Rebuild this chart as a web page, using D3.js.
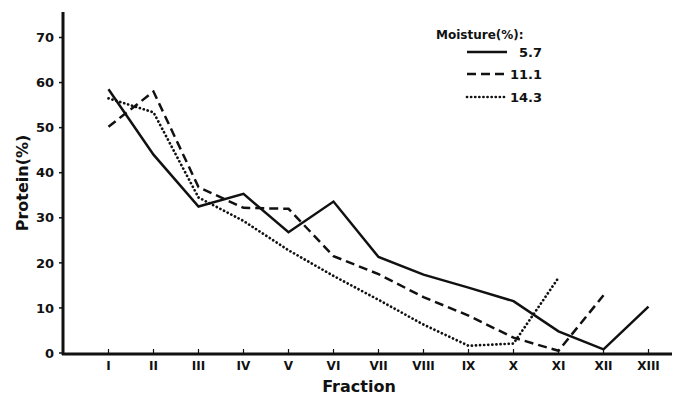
<!DOCTYPE html>
<html>
<head>
<meta charset="utf-8">
<script src="https://cdn.jsdelivr.net/npm/d3@7"></script>
<style>
  body { margin: 0; background: #fff; }
  text { font-family: "DejaVu Sans", sans-serif; font-weight: bold; fill: #111; }
</style>
</head>
<body>
<div id="chart"></div>
<script>
// fractions along the x axis
const fractions = ["I", "II", "III", "IV", "V", "VI", "VII", "VIII", "IX", "X", "XI", "XII", "XIII"];
const yTicks = [0, 10, 20, 30, 40, 50, 60, 70];

// protein (%) per fraction, one series per moisture level
const moisture57 = [58.5, 44, 32.5, 35.3, 26.8, 33.6, 21.3, 17.4, 14.5, 11.5, 4.8, 0.8, 10.3];
const moisture111 = [50.2, 58, 36.8, 32.2, 32.0, 21.5, 17.5, 12.4, 8.3, 3.4, 0.5, 12.8];
const moisture143 = [56.5, 53.4, 34.5, 29.3, 22.8, 17.1, 11.8, 6.3, 1.6, 2.1, 16.7];

const seriesNames = ["5.7", "11.1", "14.3"];
const seriesData = [moisture57, moisture111, moisture143];
const dashes = [null, "9,5", "0.1,4"];

const width = 678, height = 396;
const svg = d3.select("#chart").append("svg")
  .attr("width", width)
  .attr("height", height);

const x = d3.scalePoint()
  .domain(fractions)
  .range([108.5, 648.5]);

const y = d3.scaleLinear()
  .domain([0, 70])
  .range([353, 37.5]);

// y axis
svg.append("line")
  .attr("x1", 63).attr("x2", 63)
  .attr("y1", 12).attr("y2", 355)
  .attr("stroke", "#111").attr("stroke-width", 3);

svg.selectAll(".ytick").data(yTicks).enter().append("line")
  .attr("x1", 59).attr("x2", 63)
  .attr("y1", d => y(d)).attr("y2", d => y(d))
  .attr("stroke", "#111").attr("stroke-width", 1.5);

svg.selectAll(".ylab").data(yTicks).enter().append("text")
  .attr("x", 54)
  .attr("y", d => y(d))
  .attr("dy", "0.36em")
  .attr("text-anchor", "end")
  .style("font-size", "13px")
  .text(d => d);

// x axis
svg.append("line")
  .attr("x1", 62).attr("x2", 672)
  .attr("y1", 354).attr("y2", 354)
  .attr("stroke", "#111").attr("stroke-width", 3);

svg.selectAll(".xtick").data(fractions).enter().append("line")
  .attr("x1", d => x(d)).attr("x2", d => x(d))
  .attr("y1", 349).attr("y2", 354)
  .attr("stroke", "#111").attr("stroke-width", 1.2);

svg.selectAll(".xlab").data(fractions).enter().append("text")
  .attr("x", d => x(d))
  .attr("y", 370)
  .attr("text-anchor", "middle")
  .style("font-size", "12px")
  .text(d => d);

svg.append("text")
  .attr("x", 359)
  .attr("y", 392)
  .attr("text-anchor", "middle")
  .style("font-size", "16px")
  .text("Fraction");

svg.append("text")
  .attr("transform", "translate(28,183) rotate(-90)")
  .attr("text-anchor", "middle")
  .style("font-size", "16px")
  .text("Protein(%)");

// lines
const line = d3.line()
  .x((d, i) => x(fractions[i]))
  .y(d => y(d));

seriesData.forEach((vals, k) => {
  svg.append("path")
    .datum(vals)
    .attr("d", line)
    .attr("fill", "none")
    .attr("stroke", "#111")
    .attr("stroke-width", k == 2 ? 2.7 : 2.5)
    .attr("stroke-linecap", k == 2 ? "round" : "butt")
    .attr("stroke-dasharray", dashes[k]);
});

// legend
svg.append("text")
  .attr("x", 436)
  .attr("y", 39)
  .style("font-size", "12px")
  .text("Moisture(%):");

const legY = [52, 74, 97];
seriesNames.forEach((n, k) => {
  svg.append("line")
    .attr("x1", 467).attr("x2", 507)
    .attr("y1", legY[k]).attr("y2", legY[k])
    .attr("stroke", "#111")
    .attr("stroke-width", k == 2 ? 2.7 : 2.5)
    .attr("stroke-linecap", k == 2 ? "round" : "butt")
    .attr("stroke-dasharray", dashes[k]);
  svg.append("text")
    .attr("x", 542)
    .attr("y", legY[k])
    .attr("dy", "0.36em")
    .attr("text-anchor", "end")
    .style("font-size", "13px")
    .text(n);
});
</script>
</body>
</html>
